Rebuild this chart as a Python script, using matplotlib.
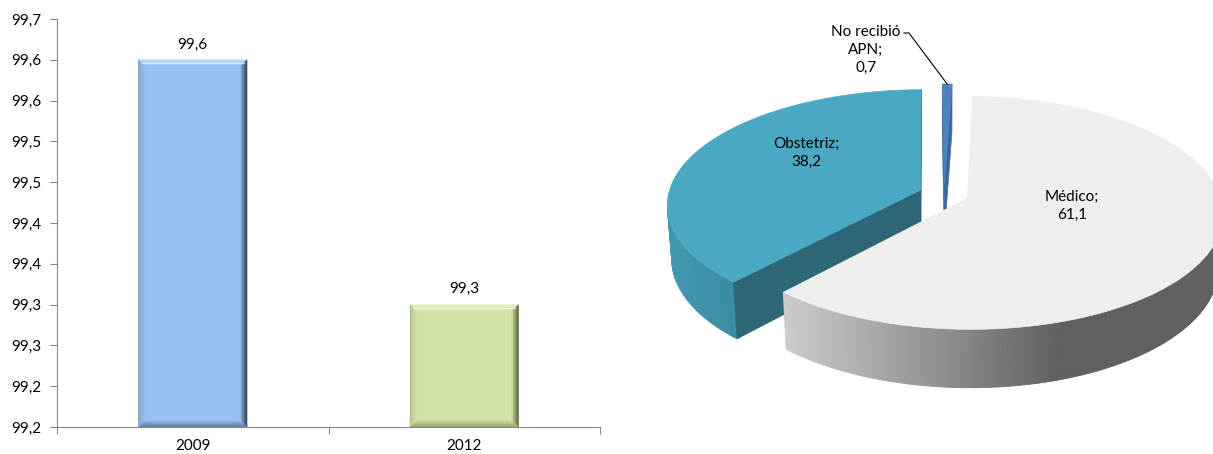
import numpy as np
import matplotlib.pyplot as plt
from matplotlib.patches import Polygon
from matplotlib.colors import to_rgb

plt.rcParams['font.family'] = ['Lato', 'DejaVu Sans']
plt.rcParams['font.size'] = 11

# bar chart data
years = ["2009", "2012"]
pct = [99.6, 99.3]
ytick_vals = [99.15, 99.20, 99.25, 99.30, 99.35, 99.40, 99.45, 99.50, 99.55, 99.60, 99.65]
ytick_labels = ["99,2", "99,2", "99,3", "99,3", "99,4", "99,4", "99,5", "99,5", "99,6", "99,6", "99,7"]
bar_colors = ["#99C0F0", "#D2E3A6"]
# bevel edge colours: top, right, bottom, left
bar_bevel = [["#C4DBF7", "#35475E", "#62809F", "#8AA3C4"],
             ["#E6F0C8", "#5C6838", "#98A86E", "#B4C490"]]

# pie data
pie_labels = ["Médico", "Obstetriz", "No recibió\nAPN"]
pie_values = [61.1, 38.2, 0.7]
pie_value_text = ["61,1", "38,2", "0,7"]

W, H = 1213, 454
fig = plt.figure(figsize=(W / 100, H / 100), dpi=100)

# ---------------- bar chart ----------------
ax = fig.add_axes([57 / W, 27 / H, 543 / W, 408 / H])
ymin, ymax = ytick_vals[0], ytick_vals[-1]
x = np.arange(len(years))
bw = 0.4
ax.bar(x, [v - ymin for v in pct], bottom=ymin, width=bw, color=bar_colors,
       edgecolor="none", zorder=2)
ax.set_xlim(-0.5, 1.5)
ax.set_ylim(ymin, ymax)


def mix(c0, c1, f):
    a, b = np.array(to_rgb(c0)), np.array(to_rgb(c1))
    return tuple(a + (b - a) * f)


# bevelled edges, drawn in a few steps so they fade into the face
bx = 7 / (543 / 2.0)
by = 7 / (408 / (ymax - ymin))
steps = 7
for i, v in enumerate(pct):
    x0, x1 = x[i] - bw / 2, x[i] + bw / 2
    y0, y1 = ymin, v
    top_c, right_c, bot_c, left_c = bar_bevel[i]
    for k in range(steps):
        d0, d1 = k / steps, (k + 1) / steps
        f = (k + 0.5) / steps
        sides = [
            ([(x0 + d0 * bx, y1 - d0 * by), (x1 - d0 * bx, y1 - d0 * by),
              (x1 - d1 * bx, y1 - d1 * by), (x0 + d1 * bx, y1 - d1 * by)], top_c, f),
            ([(x1 - d0 * bx, y1 - d0 * by), (x1 - d0 * bx, y0 + d0 * by),
              (x1 - d1 * bx, y0 + d1 * by), (x1 - d1 * bx, y1 - d1 * by)], right_c, f ** 1.4),
            ([(x0 + d0 * bx, y0 + d0 * by), (x1 - d0 * bx, y0 + d0 * by),
              (x1 - d1 * bx, y0 + d1 * by), (x0 + d1 * bx, y0 + d1 * by)], bot_c, f ** 1.2),
            ([(x0 + d0 * bx, y0 + d0 * by), (x0 + d0 * bx, y1 - d0 * by),
              (x0 + d1 * bx, y1 - d1 * by), (x0 + d1 * bx, y0 + d1 * by)], left_c, f),
        ]
        for poly, c, ff in sides:
            col = mix(c, bar_colors[i], ff)
            ax.add_patch(Polygon(poly, fc=col, ec=col, lw=0.3, zorder=3))
    # highlight line along the top bevel
    ax.plot([x0 + bx * 0.5, x1 - bx * 0.5], [y1 - by * 0.45] * 2, color="white",
            lw=1.0, alpha=0.6, zorder=4)
    ax.annotate(f"{v:.1f}".replace(".", ","), (x[i], v), xytext=(0, 6),
                textcoords="offset points", ha="center", va="bottom", color="black")

for s in ["top", "right"]:
    ax.spines[s].set_visible(False)
for s in ["left", "bottom"]:
    ax.spines[s].set_color("#868686")
    ax.spines[s].set_zorder(5)
ax.set_yticks(ytick_vals)
ax.set_yticklabels(ytick_labels)
ax.tick_params(axis="y", length=5, color="#868686", pad=6, labelcolor="black")
ax.set_xticks([-0.5, 0.5, 1.5])
ax.set_xticklabels([])
ax.tick_params(axis="x", which="major", length=5, color="#868686")
ax.set_xticks(x, minor=True)
ax.set_xticklabels(years, minor=True)
ax.tick_params(axis="x", which="minor", length=0, pad=9, labelcolor="black")

# ---------------- 3D pie ----------------
ax2 = fig.add_axes([620 / W, 0, (W - 620) / W, 1])
ax2.set_xlim(620, W)
ax2.set_ylim(H, 0)
ax2.axis("off")

ELEV = np.radians(28.5)
DIST = 7.2
SCALE = 248
DEPTH = 0.24
EXPL = 0.1
START = 88.0
se, ce = np.sin(ELEV), np.cos(ELEV)
CX = 944
CY = 194 + SCALE * DEPTH * ce * DIST / (DIST - DEPTH * se)
cam = (0.0, -DIST * ce, DIST * se)


def proj(X, Z, h):
    yc = Z * se + h * ce
    zc = Z * ce - h * se
    w = DIST / (DIST + zc)
    return CX + SCALE * X * w, CY - SCALE * yc * w


def facing(nx, nz, px, pz):
    return nx * (cam[0] - px) + nz * (cam[1] - pz) > 0


def draw_slice(a0, a1, top_col, side_col, cut_col, z):
    mid = np.radians((a0 + a1) / 2)
    ox, oz = EXPL * np.cos(mid), EXPL * np.sin(mid)
    ts = np.radians(np.linspace(a0, a1, max(4, int(abs(a1 - a0)) + 2)))
    # outer wall
    for t0, t1 in zip(ts[:-1], ts[1:]):
        t = (t0 + t1) / 2
        if not facing(np.cos(t), np.sin(t), ox + np.cos(t), oz + np.sin(t)):
            continue
        quad = [proj(ox + np.cos(t0), oz + np.sin(t0), DEPTH),
                proj(ox + np.cos(t1), oz + np.sin(t1), DEPTH),
                proj(ox + np.cos(t1), oz + np.sin(t1), 0),
                proj(ox + np.cos(t0), oz + np.sin(t0), 0)]
        c = side_col(np.mean([q[0] for q in quad]))
        ax2.add_patch(Polygon(quad, closed=True, fc=c, ec=c, lw=0.6, zorder=z))
    # radial cut faces
    ra0, ra1 = np.radians(a0), np.radians(a1)
    for a, (nx, nz) in [(ra0, (np.sin(ra0), -np.cos(ra0))), (ra1, (-np.sin(ra1), np.cos(ra1)))]:
        if not facing(nx, nz, ox + 0.5 * np.cos(a), oz + 0.5 * np.sin(a)):
            continue
        quad = [proj(ox, oz, DEPTH), proj(ox + np.cos(a), oz + np.sin(a), DEPTH),
                proj(ox + np.cos(a), oz + np.sin(a), 0), proj(ox, oz, 0)]
        ax2.add_patch(Polygon(quad, closed=True, fc=cut_col, ec=cut_col, lw=0.5, zorder=z))
    top = [proj(ox, oz, DEPTH)] + [proj(ox + np.cos(t), oz + np.sin(t), DEPTH) for t in ts]
    ax2.add_patch(Polygon(top, closed=True, fc=top_col, ec=top_col, lw=0.5, zorder=z + 0.5))
    return ox, oz


def gray_side(px):
    g = np.interp(px, [783, 1060], [205, 96]) / 255
    return (g, g, g)


def teal_side(px):
    f = np.interp(px, [670, 733], [0, 1])
    return mix("#4298B0", "#3A8CA2", f)


def blue_side(px):
    return "#3A679E"


styles = [("#EEEEEE", gray_side, "#E2E2E2"),
          ("#4AA8C2", teal_side, "#2E6878"),
          ("#4F81BD", blue_side, "#3A679E")]

# slice angles, clockwise from the start angle
bounds = []
acc = 0.0
for v in pie_values:
    a_end = START - acc * 3.6
    a_start = a_end - v * 3.6
    bounds.append((a_start, a_end))
    acc += v

# paint back to front: small slice, Obstetriz, Médico
order = [2, 1, 0]
offsets = {}
for k, i in enumerate(order):
    top_c, side_fn, cut_c = styles[i]
    offsets[i] = draw_slice(bounds[i][0], bounds[i][1], top_c, side_fn, cut_c, z=2 + k)

# labels
label_pos = [(1072, 206), (806, 153), (866, 50)]
for i, (lx, ly) in enumerate(label_pos):
    ax2.text(lx, ly, f"{pie_labels[i]};\n{pie_value_text[i]}", ha="center", va="center",
             linespacing=1.35, color="black", zorder=10)

# leader line to the small slice
mid2 = np.radians(sum(bounds[2]) / 2)
ox2, oz2 = offsets[2]
tip = proj(ox2 + np.cos(mid2), oz2 + np.sin(mid2), DEPTH)
ax2.plot([904, 909, tip[0]], [33, 33, tip[1]], color="black", lw=0.8, zorder=10)

fig.savefig("out.png", dpi=100)
